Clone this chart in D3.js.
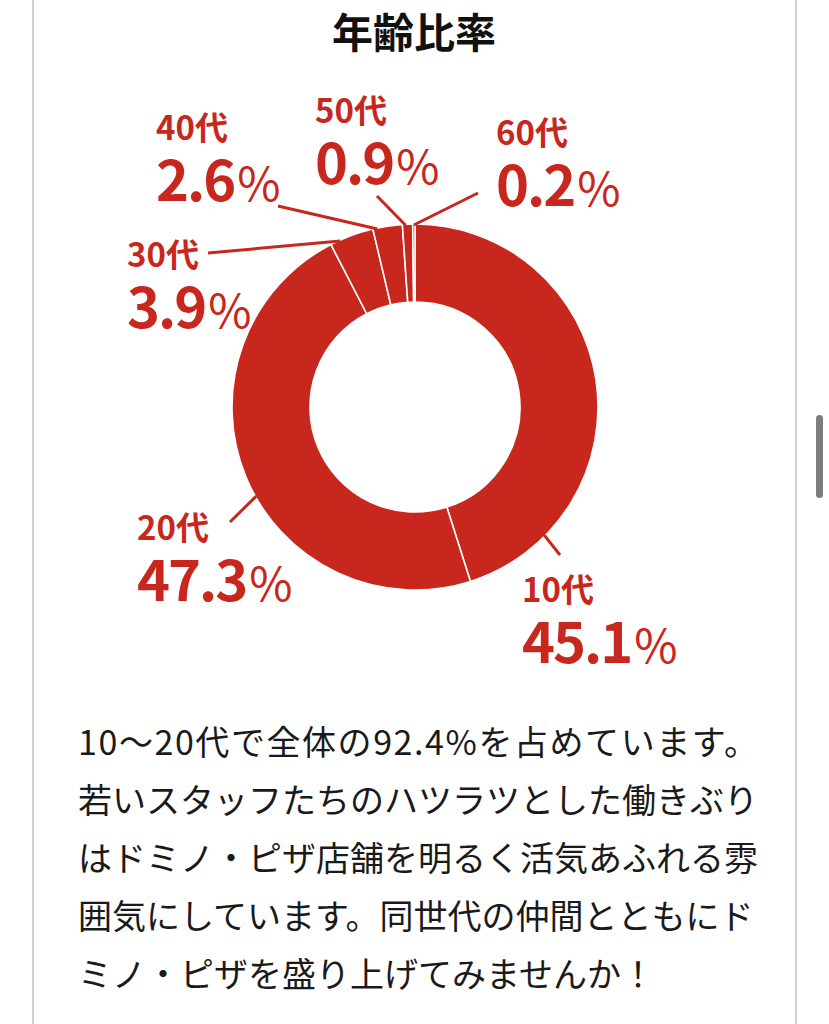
<!DOCTYPE html>
<meta charset="utf-8">
<script src="https://cdn.jsdelivr.net/npm/d3@7"></script>
<style>
  body { margin: 0; background: #fff; }
  text { font-family: "Noto Sans CJK JP", "Noto Sans", sans-serif; }
</style>
<body>
<script>

var width = 829
var height = 1024

// data
var ages = ["10代", "20代", "30代", "40代", "50代", "60代"]
var shares = [45.1, 47.3, 3.9, 2.6, 0.9, 0.2]

var title = "年齢比率"
var bodyLines = [
  "10〜20代で全体の92.4%を占めています。",
  "若いスタッフたちのハツラツとした働きぶり",
  "はドミノ・ピザ店舗を明るく活気あふれる雰",
  "囲気にしています。同世代の仲間とともにド",
  "ミノ・ピザを盛り上げてみませんか！"
]

// label placement (text left/baseline, leader start, where on the slice the leader lands)
var labelPos = [
  {x: 522, y: 602, lx: 560, ly: 555, t: 0.83},
  {x: 137, y: 540, lx: 230, ly: 522, t: 0.46},
  {x: 127, y: 267, lx: 208, ly: 253, t: 0.22},
  {x: 156, y: 140, lx: 278, ly: 206, t: 0.15},
  {x: 315, y: 123, lx: 377, ly: 196, t: 0.30},
  {x: 496, y: 145, lx: 478, ly: 193, t: 0.50}
]

var red = "#c8271d"
var cx = 415, cy = 407
var outerR = 183, innerR = 105

var svg = d3.select("body").append("svg")
            .attr("width", width)
            .attr("height", height)
            .attr("viewBox", "0 0 " + width + " " + height)
            .style("display", "block")

// card edges
svg.append("line").attr("x1", 33).attr("x2", 33).attr("y1", 0).attr("y2", height)
   .style("stroke", "#d2d2d2").style("stroke-width", 2)
svg.append("line").attr("x1", 796).attr("x2", 796).attr("y1", 0).attr("y2", height)
   .style("stroke", "#d2d2d2").style("stroke-width", 2)

// scrollbar
svg.append("rect")
   .attr("x", 816).attr("y", 415)
   .attr("width", 7).attr("height", 83)
   .attr("rx", 3.5)
   .style("fill", "#7d7d7d")

svg.append("text")
   .attr("x", 414)
   .attr("y", 48)
   .style("text-anchor", "middle")
   .style("font-size", "41px")
   .style("font-weight", 700)
   .style("fill", "#111")
   .text(title)

var pie = d3.pie().sort(null).value(d => d)
var arcs = pie(shares)

var arc = d3.arc().innerRadius(innerR).outerRadius(outerR)

var g = svg.append("g").attr("transform", "translate(" + cx + "," + cy + ")")

g.selectAll("path.slice")
 .data(arcs)
 .enter().append("path")
 .attr("class", "slice")
 .attr("d", arc)
 .style("fill", red)
 .style("stroke", "#fff")
 .style("stroke-width", 1.6)

function leaderAngle(d, i) {
  return d.startAngle + labelPos[i].t * (d.endAngle - d.startAngle)
}

// leader lines
g.selectAll("line.leader")
 .data(arcs)
 .enter().append("line")
 .attr("class", "leader")
 .attr("x1", (d, i) => labelPos[i].lx - cx)
 .attr("y1", (d, i) => labelPos[i].ly - cy)
 .attr("x2", (d, i) => Math.sin(leaderAngle(d, i)) * (outerR - 1))
 .attr("y2", (d, i) => -Math.cos(leaderAngle(d, i)) * (outerR - 1))
 .style("stroke", red)
 .style("stroke-width", 3)

// labels: age on the first line, share underneath
var labels = svg.append("g").selectAll("text.label")
                .data(arcs)
                .enter().append("text")
                .attr("class", "label")
                .attr("x", (d, i) => labelPos[i].x)
                .attr("y", (d, i) => labelPos[i].y)
                .style("fill", red)
                .style("font-weight", 700)

labels.append("tspan")
      .style("font-size", "33px")
      .text((d, i) => ages[i])

labels.append("tspan")
      .attr("x", (d, i) => labelPos[i].x)
      .attr("dy", 61)
      .style("font-size", "56px")
      .style("letter-spacing", "-2px")
      .text(d => d.data.toFixed(1))

labels.append("tspan")
      .style("font-size", "47px")
      .style("font-weight", 400)
      .attr("dx", 3)
      .text("%")

// body text
svg.append("g").selectAll("text")
   .data(bodyLines)
   .enter().append("text")
   .attr("x", 78)
   .attr("y", (d, i) => 755 + i * 58)
   .attr("textLength", (d, i) => i == 0 ? 680 : null)
   .attr("lengthAdjust", "spacing")
   .style("font-size", "34px")
   .style("font-weight", 400)
   .style("fill", "#1a1a1a")
   .text(d => d)

</script>
</body>
